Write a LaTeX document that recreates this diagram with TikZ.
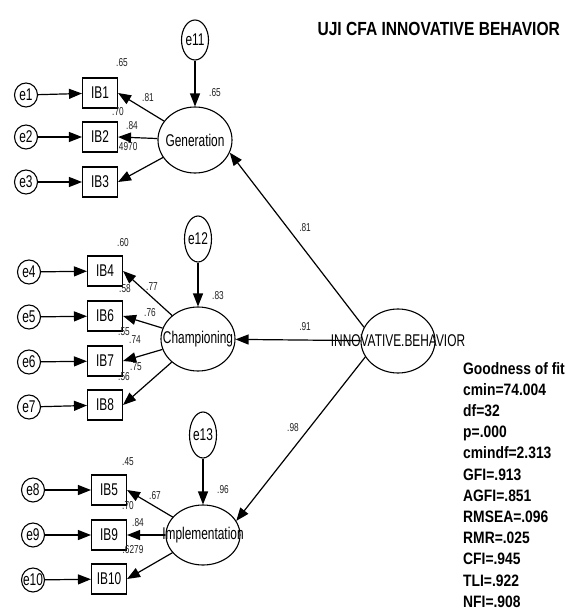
\documentclass[tikz,border=0pt]{standalone}
\usepackage{fontspec}
\setmainfont{Liberation Sans}
\newfontfamily\semfont[FakeStretch=0.70]{Liberation Sans}
\newfontfamily\numfont[FakeStretch=0.72]{Liberation Sans}
\newfontfamily\hdfont[FakeStretch=0.82]{Liberation Sans}
\newfontfamily\fitfont[FakeStretch=0.84]{Liberation Sans}
\usetikzlibrary{arrows.meta,positioning,shapes.geometric}
\definecolor{cInk}{HTML}{000000}
\definecolor{cInk2}{HTML}{202020}
\tikzset{
  est/.style={font=\numfont\fontsize{11.5}{12}\selectfont, text=cInk2, inner sep=0pt},
  fitline/.style={font=\fitfont\bfseries\fontsize{16.5}{18}\selectfont, text=cInk,
    anchor=base west, inner sep=0pt},
}

\begin{document}
\begin{tikzpicture}[x=1pt, y=-1pt,
  font=\semfont\fontsize{17}{19}\selectfont,
  latent/.style={ellipse, draw=cInk, line width=1.1pt, minimum width=74,
    minimum height=66, inner sep=0pt},
  err/.style={ellipse, draw=cInk, line width=1.1pt, minimum width=23,
    minimum height=24, inner sep=0pt},
  obs/.style={rectangle, draw=cInk, line width=1.1pt, minimum width=35,
    minimum height=30, inner sep=0pt},
  flow/.style={-{Triangle[length=13pt,width=10pt]}, line width=1.2pt, draw=cInk},
  hd/.style={font=\hdfont\bfseries\fontsize{19}{21}\selectfont, text=cInk},
]
\useasboundingbox (0,0) rectangle (568,612);
\node[hd, anchor=west] (title) at (314,29) {UJI CFA INNOVATIVE BEHAVIOR};
% ---------------------------------------------------------------- generation
\node[latent, label={[anchor=center]center:Generation}] (gen) at (195,140) {};
\node[err, minimum width=27, minimum height=40, label={[anchor=center]center:e11}] (e11) at (195,40) {};
\node[obs] (ib1) at (100,93) {IB1};
\node[obs] (ib2) at (100,137) {IB2};
\node[obs] (ib3) at (100,182) {IB3};
\node[err, label={[anchor=center]center:e1}] (e1) at (26,95) {};
\node[err, label={[anchor=center]center:e2}] (e2) at (26,137) {};
\node[err, label={[anchor=center]center:e3}] (e3) at (26,182) {};
% ---------------------------------------------------------------- championing
\node[latent, minimum height=64, label={[anchor=center]center:Championing}] (champ) at (198,339) {};
\node[err, minimum width=27, minimum height=46, label={[anchor=center]center:e12}] (e12) at (198,239) {};
\node[obs] (ib4) at (105,271) {IB4};
\node[obs] (ib6) at (105,316) {IB6};
\node[obs] (ib7) at (105,361) {IB7};
\node[obs] (ib8) at (105,405) {IB8};
\node[err, label={[anchor=center]center:e4}] (e4) at (29,272) {};
\node[err, label={[anchor=center]center:e5}] (e5) at (29,317) {};
\node[err, label={[anchor=center]center:e6}] (e6) at (29,362) {};
\node[err, label={[anchor=center]center:e7}] (e7) at (29,407) {};
% ---------------------------------------------------------------- implementation
\node[latent, minimum height=60, label={[anchor=center]center:Implementation}] (impl) at (203,535) {};
\node[err, minimum width=27, minimum height=46, label={[anchor=center]center:e13}] (e13) at (203,435) {};
\node[obs] (ib5) at (109,490) {IB5};
\node[obs] (ib9) at (109,535) {IB9};
\node[obs] (ib10) at (109,579) {IB10};
\node[err, label={[anchor=center]center:e8}] (e8) at (33,490) {};
\node[err, label={[anchor=center]center:e9}] (e9) at (33,535) {};
\node[err, label={[anchor=center]center:e10}] (e10) at (33,580) {};
% ---------------------------------------------------------------- second order
\node[latent, minimum height=64, label={[anchor=center]center:INNOVATIVE.BEHAVIOR}] (inno) at (398,341) {};
% ---------------------------------------------------------------- arrows
\foreach \a/\b in {e1/ib1, e2/ib2, e3/ib3, e4/ib4, e5/ib6, e6/ib7, e7/ib8,
  e8/ib5, e9/ib9, e10/ib10}
  \draw[flow] (\a) -- (\b);
\foreach \a/\b in {gen/ib1, gen/ib2, gen/ib3, champ/ib4, champ/ib6, champ/ib7,
  champ/ib8, impl/ib5, impl/ib9, impl/ib10}
  \draw[flow] (\a) -- (\b.east);
\draw[flow] (e11) -- (gen);
\draw[flow] (e12) -- (champ);
\draw[flow] (e13) -- (impl);
\draw[flow] (inno.158) -- (gen.-20);
\draw[flow] (inno) -- (champ);
\draw[flow] (inno.206) -- (impl.23);
% ---------------------------------------------------------------- estimates
\node[est] (r1) at (122,63) {.65};
\node[est] (l1) at (148,98) {.81};
\node[est] (r2) at (118,112) {.70};
\node[est] (l2) at (132,126) {.84};
\node[est] (r3) at (127,147) {.4970};
\node[est] (rgen) at (215,93) {.65};
\node[est] (r4) at (123,243) {.60};
\node[est] (l4) at (152,287) {.77};
\node[est] (r6) at (125,289) {.58};
\node[est] (l6) at (150,313) {.76};
\node[est] (r7) at (124,332) {.55};
\node[est] (l7) at (135,340) {.74};
\node[est] (l8) at (136,367) {.75};
\node[est] (r8) at (124,377) {.56};
\node[est] (rchamp) at (218,296) {.83};
\node[est] (r5) at (128,462) {.45};
\node[est] (l5) at (155,496) {.67};
\node[est] (r9) at (128,506) {.70};
\node[est] (l9) at (138,523) {.84};
\node[est] (r10) at (133,550) {.6279};
\node[est] (rimpl) at (223,490) {.96};
\node[est] (bgen) at (305,228) {.81};
\node[est] (bchamp) at (305,327) {.91};
\node[est] (bimpl) at (293,428) {.98};
% ---------------------------------------------------------------- fit
\foreach \txt [count=\i from 0] in {Goodness of fit, cmin=74.004, df=32, p=.000,
  cmindf=2.313, GFI=.913, AGFI=.851, RMSEA=.096, RMR=.025, CFI=.945, TLI=.922,
  NFI=.908}
  \node[fitline] (fit\i) at (463,374+21.2*\i) {\txt};
\end{tikzpicture}
\end{document}
